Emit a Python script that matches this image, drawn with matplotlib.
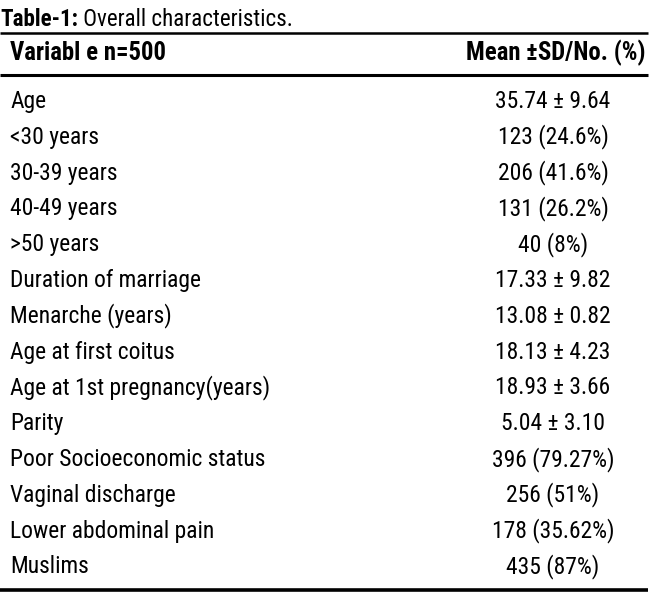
import matplotlib
matplotlib.use("Agg")
import matplotlib.pyplot as plt
from matplotlib import font_manager

# -----------------------------
# Table content
# -----------------------------
title_bold = "Table-1:"
title_rest = " Overall characteristics."
header_left = "Variabl e n=500"
header_right = "Mean \u00b1SD/No. (%)"

variables = [
    "Age",
    "<30 years",
    "30-39 years",
    "40-49 years",
    ">50 years",
    "Duration of marriage",
    "Menarche (years)",
    "Age at first coitus",
    "Age at 1st pregnancy(years)",
    "Parity",
    "Poor Socioeconomic status",
    "Vaginal discharge",
    "Lower abdominal pain",
    "Muslims",
]
values = [
    "35.74 \u00b1 9.64",
    "123 (24.6%)",
    "206 (41.6%)",
    "131 (26.2%)",
    "40 (8%)",
    "17.33 \u00b1 9.82",
    "13.08 \u00b1 0.82",
    "18.13 \u00b1 4.23",
    "18.93 \u00b1 3.66",
    "5.04 \u00b1 3.10",
    "396 (79.27%)",
    "256 (51%)",
    "178 (35.62%)",
    "435 (87%)",
]

# -----------------------------
# Pick a narrow face if one is installed
# -----------------------------
fonts = font_manager.fontManager.ttflist
names = {f.name for f in fonts}
family, stretch = "DejaVu Sans", "normal"
for cand in ["Liberation Sans Narrow", "Roboto Condensed", "Open Sans Condensed",
             "Noto Sans Condensed", "DejaVu Sans Condensed"]:
    if cand in names:
        family = cand
        break
else:
    for base in ["DejaVu Sans", "Noto Sans", "Roboto", "Open Sans"]:
        if any(f.name == base and f.stretch in ("condensed", "semi-condensed", 600, 700) for f in fonts):
            family, stretch = base, "condensed"
            break
plt.rcParams["font.family"] = [family, "DejaVu Sans"]
plt.rcParams["font.stretch"] = stretch

fig = plt.figure(figsize=(6.5, 6.01), dpi=100)
ax = fig.add_axes([0, 0, 1, 1])
ax.set_xlim(0, 650)
ax.set_ylim(601, 0)
ax.axis("off")
fig.canvas.draw()
renderer = fig.canvas.get_renderer()


def width_px(s, size, weight="normal"):
    t = ax.text(0, 0, s, fontsize=size, fontweight=weight)
    w = t.get_window_extent(renderer).width
    t.remove()
    return w


def fit(s, target, weight="normal", base=16.0):
    return base * target / width_px(s, base, weight)


body_fs = min(fit("Duration of marriage", 192), 17)
head_fs = min(fit(header_right, 180, "bold"), 19)
title_fs = min(fit(title_bold + title_rest, 298, "bold"), 18)

# title, bold part then regular part
t1 = ax.text(0, 26, title_bold, fontsize=title_fs, fontweight="bold", va="baseline", ha="left")
bb = t1.get_window_extent(renderer)
x_end = ax.transData.inverted().transform((bb.x1, bb.y0))[0]
ax.text(x_end, 26, title_rest, fontsize=title_fs, va="baseline", ha="left")

# rules
ax.plot([0, 648], [33, 33], color="black", lw=1.8, solid_capstyle="butt")
ax.plot([0, 648], [75, 75], color="black", lw=2.2, solid_capstyle="butt")
ax.plot([0, 648], [590, 590], color="black", lw=2.6, solid_capstyle="butt")

# header
ax.text(10, 60, header_left, fontsize=head_fs, fontweight="bold", va="baseline", ha="left")
ax.text(645, 60, header_right, fontsize=head_fs, fontweight="bold", va="baseline", ha="right")

# body rows
step = 35.8
for i, (var, val) in enumerate(zip(variables, values)):
    yb = 108 + i * step
    ax.text(10, yb, var, fontsize=body_fs, va="baseline", ha="left")
    ax.text(553, yb, val, fontsize=body_fs, va="baseline", ha="center")

fig.savefig("out.png", dpi=100)
